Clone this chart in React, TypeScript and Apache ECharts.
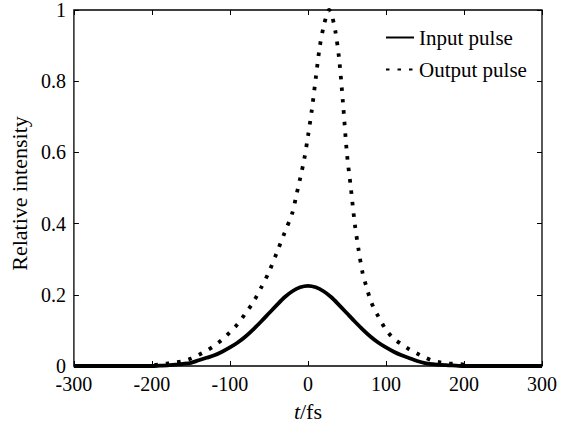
import React, { useEffect, useRef } from "react";
import * as echarts from "echarts";

const xTicks = [-300, -200, -100, 0, 100, 200, 300];
const yTicks = [0, 0.2, 0.4, 0.6, 0.8, 1];

const inputTime = [-300, -250, -200, -190, -180, -170, -160, -150, -140, -130, -120, -110, -100, -90, -80, -70, -60, -50, -40, -30, -20, -10, 0, 10, 20, 30, 40, 50, 60, 70, 80, 90, 100, 110, 120, 130, 140, 150, 160, 170, 180, 190, 200, 250, 300];
const inputValues = [0, 0, 0, 0.001, 0.002, 0.004, 0.006, 0.009, 0.016, 0.023, 0.030, 0.040, 0.052, 0.066, 0.083, 0.103, 0.125, 0.148, 0.171, 0.193, 0.210, 0.221, 0.225, 0.221, 0.210, 0.193, 0.171, 0.148, 0.125, 0.103, 0.083, 0.066, 0.052, 0.040, 0.030, 0.022, 0.014, 0.008, 0.005, 0.003, 0.002, 0.001, 0, 0, 0];

const outputTime = [-300, -250, -210, -200, -190, -180, -170, -160, -150, -140, -130, -120, -110, -100, -90, -80, -70, -60, -50, -40, -30, -20, -15, -10, -5, 0, 5, 10, 15, 20, 25, 27, 30, 35, 40, 45, 50, 55, 60, 65, 70, 75, 80, 85, 90, 100, 110, 120, 130, 140, 150, 160, 170, 180, 190, 200, 210, 250, 300];
const outputValues = [0, 0, 0, 0.002, 0.004, 0.007, 0.010, 0.014, 0.021, 0.031, 0.043, 0.057, 0.074, 0.095, 0.118, 0.148, 0.180, 0.220, 0.264, 0.318, 0.374, 0.430, 0.478, 0.527, 0.578, 0.645, 0.720, 0.808, 0.895, 0.953, 0.993, 1.0, 0.99, 0.942, 0.862, 0.736, 0.596, 0.500, 0.400, 0.325, 0.262, 0.222, 0.186, 0.160, 0.140, 0.102, 0.077, 0.061, 0.047, 0.035, 0.024, 0.015, 0.010, 0.007, 0.006, 0.004, 0, 0, 0];

const seriesNames = ["Input pulse", "Output pulse"];

const FONT = "'Liberation Serif', 'Times New Roman', serif";
const DOTS = [3.5, 8];

const mkLine = () => ({ show: false, onZero: false });
const mkTick = () => ({ show: true, inside: true, length: 5, lineStyle: { color: "#000", width: 1 } });

export default function App() {
  const ref = useRef<HTMLDivElement>(null);
  useEffect(() => {
    if (!ref.current) return;
    const chart = echarts.init(ref.current, undefined, { renderer: "svg" });
    const xMin = xTicks[0];
    const xMax = xTicks[xTicks.length - 1];
    const yMin = yTicks[0];
    const yMax = yTicks[yTicks.length - 1];
    chart.setOption({
      animation: false,
      backgroundColor: "#fff",
      grid: {
        left: 73,
        right: 31,
        top: 9,
        bottom: 57,
        show: true,
        borderColor: "#000",
        borderWidth: 1.3,
        backgroundColor: "transparent",
      },
      legend: {
        data: seriesNames,
        orient: "vertical",
        left: 380,
        top: 22,
        itemWidth: 28,
        itemHeight: 14,
        itemGap: 11,
        itemStyle: { opacity: 0 },
        textStyle: { fontFamily: FONT, fontSize: 21, color: "#000" },
      },
      xAxis: [
        {
          type: "value",
          min: xMin,
          max: xMax,
          interval: 100,
          axisLine: mkLine(),
          axisTick: mkTick(),
          splitLine: { show: false },
          axisLabel: { fontFamily: FONT, fontSize: 20, color: "#000", margin: 8 },
          name: "{i|t}/fs",
          nameLocation: "middle",
          nameGap: 34,
          nameTextStyle: {
            fontFamily: FONT,
            fontSize: 22,
            color: "#000",
            rich: { i: { fontFamily: FONT, fontSize: 22, fontStyle: "italic", color: "#000" } },
          },
        },
        {
          type: "value",
          position: "top",
          min: xMin,
          max: xMax,
          interval: 100,
          axisLine: mkLine(),
          axisTick: mkTick(),
          axisLabel: { show: false },
          splitLine: { show: false },
        },
      ],
      yAxis: [
        {
          type: "value",
          min: yMin,
          max: yMax,
          interval: 0.2,
          axisLine: mkLine(),
          axisTick: mkTick(),
          splitLine: { show: false },
          axisLabel: { fontFamily: FONT, fontSize: 20, color: "#000", margin: 8 },
          name: "Relative intensity",
          nameLocation: "middle",
          nameGap: 40,
          nameTextStyle: { fontFamily: FONT, fontSize: 22, color: "#000", padding: [0, 11, 0, 0] },
        },
        {
          type: "value",
          position: "right",
          min: yMin,
          max: yMax,
          interval: 0.2,
          axisLine: mkLine(),
          axisTick: mkTick(),
          axisLabel: { show: false },
          splitLine: { show: false },
        },
      ],
      series: [
        {
          name: seriesNames[0],
          type: "line",
          data: inputTime.map((t, i) => [t, inputValues[i]]),
          showSymbol: false,
          symbol: "none",
          smooth: 0.3,
          lineStyle: { color: "#000", width: 3.8 },
          itemStyle: { color: "#000" },
          z: 3,
        },
        {
          name: seriesNames[1],
          type: "line",
          data: outputTime.map((t, i) => [t, outputValues[i]]),
          showSymbol: false,
          symbol: "none",
          smooth: 0.3,
          lineStyle: { color: "#000", width: 3.8, type: DOTS, cap: "butt" },
          itemStyle: { color: "#000" },
          z: 4,
        },
      ],
    });
    return () => chart.dispose();
  }, []);
  return <div ref={ref} style={{ width: 573, height: 427, position: "absolute", left: 0, top: 0 }} />;
}
